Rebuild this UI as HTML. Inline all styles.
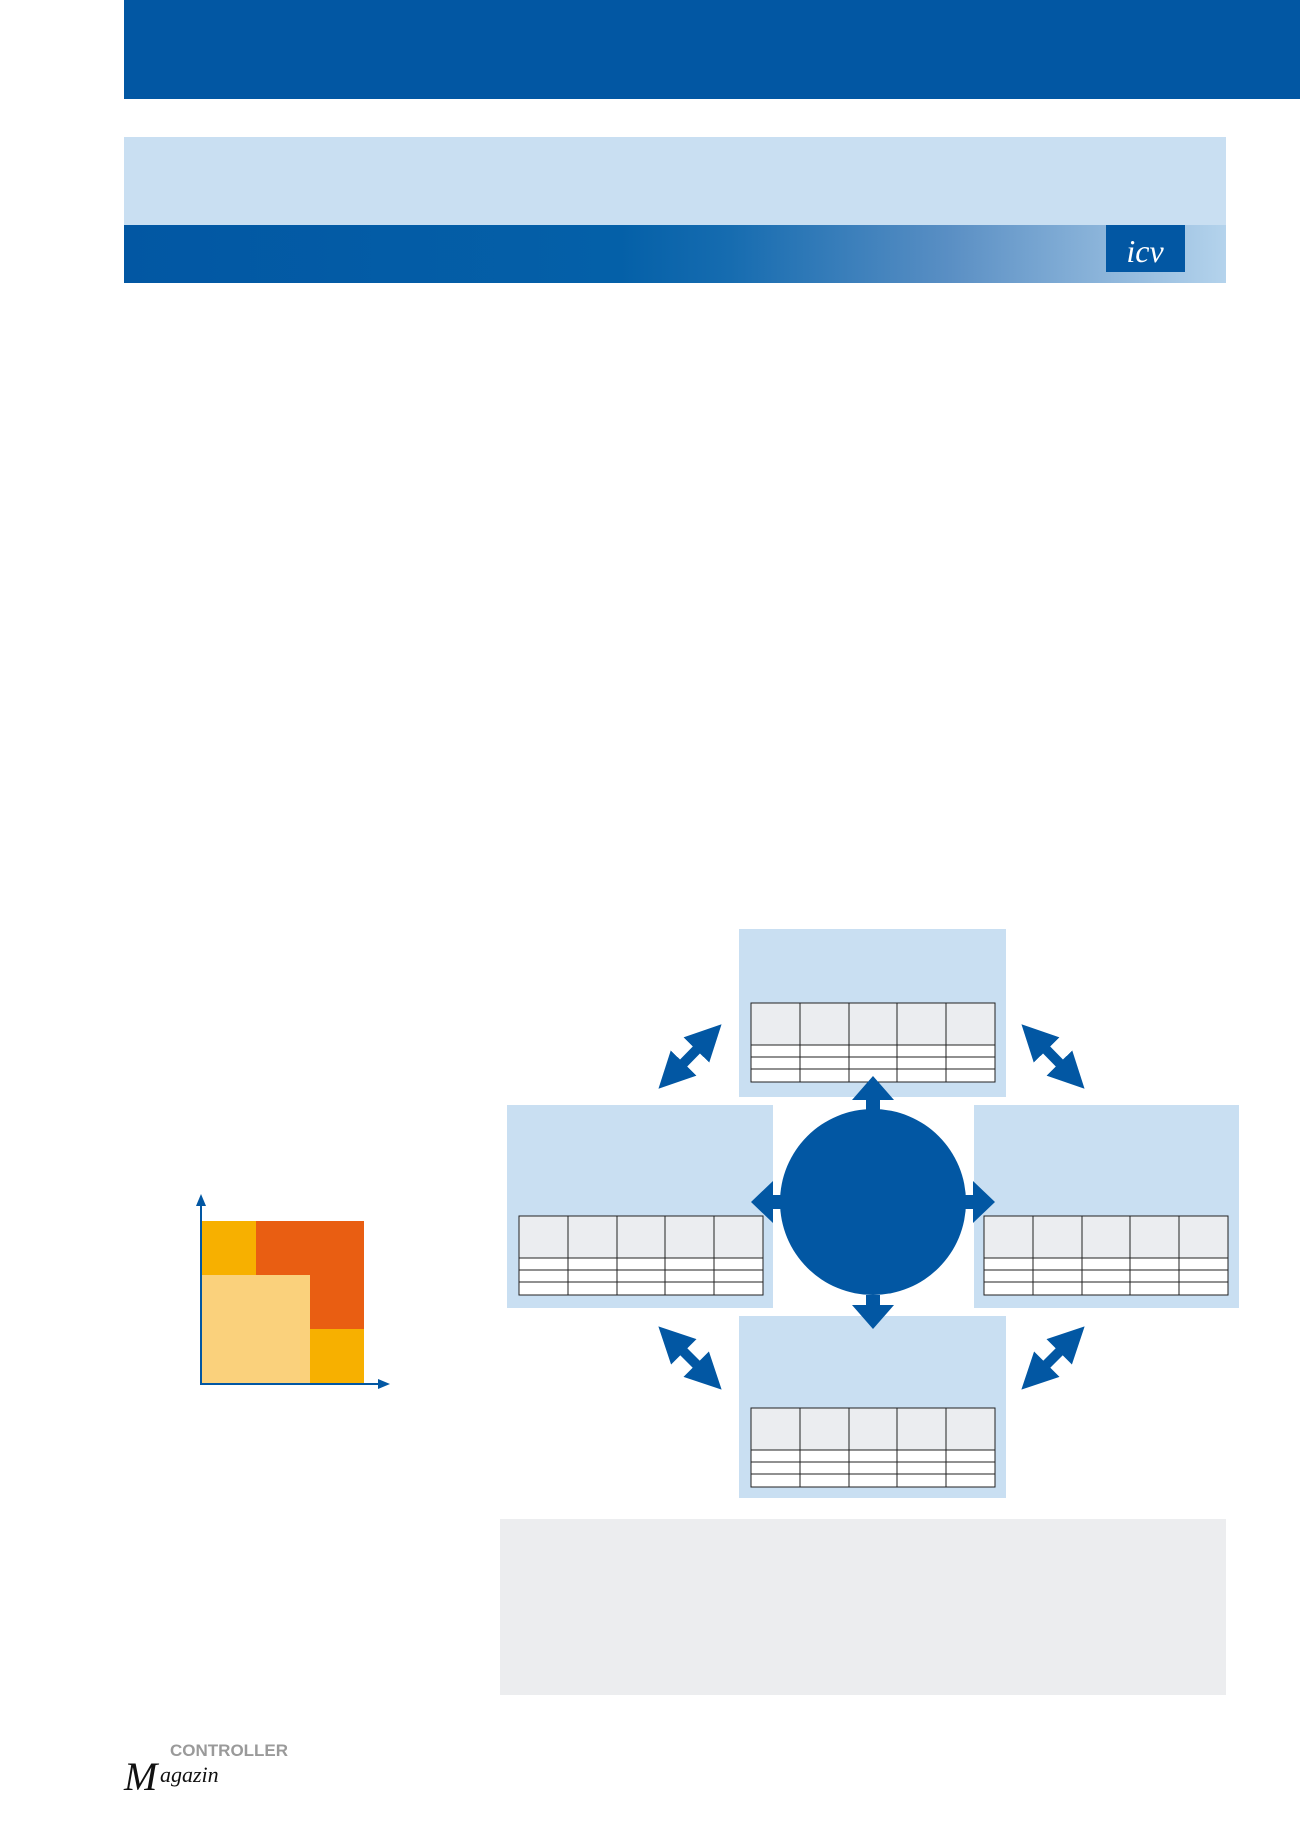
<!DOCTYPE html>
<html><head><meta charset="utf-8"><style>html,body{margin:0;padding:0;background:#fff}svg{display:block}</style></head>
<body>
<svg width="1300" height="1839" viewBox="0 0 1300 1839" xmlns="http://www.w3.org/2000/svg" font-family="Liberation Sans, sans-serif">
<defs>
<linearGradient id="g" x1="0" x2="1">
<stop offset="0" stop-color="#0257a3"/><stop offset="0.45" stop-color="#0460a8"/><stop offset="0.55" stop-color="#166cb0"/><stop offset="0.75" stop-color="#5a8fc4"/><stop offset="1" stop-color="#b4d3ec"/>
</linearGradient>
<marker id="ah" viewBox="0 0 10 10" refX="7" refY="5" markerWidth="3.6" markerHeight="3.6" orient="auto-start-reverse"><path d="M0,0L10,5L0,10z" fill="#0257a3"/></marker>
<g id="t" stroke="#222" stroke-width="1">
<rect x="0" y="0" width="244" height="42" fill="#ebedf0"/>
<rect x="0" y="42" width="244" height="37" fill="#fff"/>
<line x1="0" y1="54" x2="244" y2="54"/><line x1="0" y1="66" x2="244" y2="66"/>
<line x1="49" y1="0" x2="49" y2="79"/><line x1="98" y1="0" x2="98" y2="79"/><line x1="146" y1="0" x2="146" y2="79"/><line x1="195" y1="0" x2="195" y2="79"/>
<rect x="0" y="0" width="244" height="79" fill="none"/>
</g>
</defs>
<rect x="124" y="0" width="1176" height="99" fill="#0257a3"/>
<rect x="124" y="137" width="1102" height="88" fill="#c9dff2"/>
<rect x="124" y="225" width="1102" height="58" fill="url(#g)"/>
<rect x="1106" y="225" width="79" height="47" fill="#0257a3"/>
<text x="1145" y="262" font-size="32" font-style="italic" fill="#fff" text-anchor="middle" font-family="Liberation Serif, serif">icv</text>

<rect x="202" y="1221" width="54" height="54" fill="#f7b000"/>
<rect x="256" y="1221" width="108" height="54" fill="#e95e12"/>
<rect x="202" y="1275" width="108" height="108" fill="#fad17c"/>
<rect x="310" y="1275" width="54" height="54" fill="#e95e12"/>
<rect x="310" y="1329" width="54" height="54" fill="#f7b000"/>
<line x1="201" y1="1384" x2="201" y2="1200" stroke="#0257a3" stroke-width="2"/>
<path d="M196,1206L201,1194L206,1206z" fill="#0257a3"/>
<line x1="200" y1="1384" x2="384" y2="1384" stroke="#0257a3" stroke-width="2"/>
<path d="M378,1379L390,1384L378,1389z" fill="#0257a3"/>

<rect x="739" y="929" width="267" height="168" fill="#c9dff2"/>
<rect x="507" y="1105" width="266" height="203" fill="#c9dff2"/>
<rect x="974" y="1105" width="265" height="203" fill="#c9dff2"/>
<rect x="739" y="1316" width="267" height="182" fill="#c9dff2"/>

<use href="#t" x="751" y="1003"/>
<use href="#t" x="519" y="1216"/>
<use href="#t" x="984" y="1216"/>
<use href="#t" x="751" y="1408"/>

<ellipse cx="873" cy="1202" rx="93" ry="93" fill="#0257a3"/>
<g fill="#0257a3">
<path d="M866,1110h14v-10h14l-21,-24l-21,24h14z"/>
<path d="M866,1295h14v10h14l-21,24l-21,-24h14z"/>
<path d="M782,1195v14h-9v14l-22,-21l22,-21v14z"/>
<path d="M964,1195v14h9v14l22,-21l-22,-21v14z"/>
</g>
<g stroke="#0257a3" stroke-width="10" marker-start="url(#ah)" marker-end="url(#ah)">
<line x1="666" y1="1081" x2="714" y2="1032"/>
<line x1="1029" y1="1032" x2="1077" y2="1081"/>
<line x1="666" y1="1334" x2="714" y2="1382"/>
<line x1="1029" y1="1382" x2="1077" y2="1334"/>
</g>

<rect x="500" y="1519" width="726" height="176" fill="#ecedef"/>

<text x="170" y="1756" font-size="17" font-weight="bold" fill="#9a9a9a" font-family="Liberation Sans Narrow, Liberation Sans, sans-serif">CONTROLLER</text>
<text x="124" y="1790" font-size="40" font-style="italic" fill="#111" font-family="Liberation Serif, serif">M</text>
<text x="160" y="1782" font-size="22" font-style="italic" fill="#111" font-family="Liberation Serif, serif">agazin</text>
</svg>
</body></html>
